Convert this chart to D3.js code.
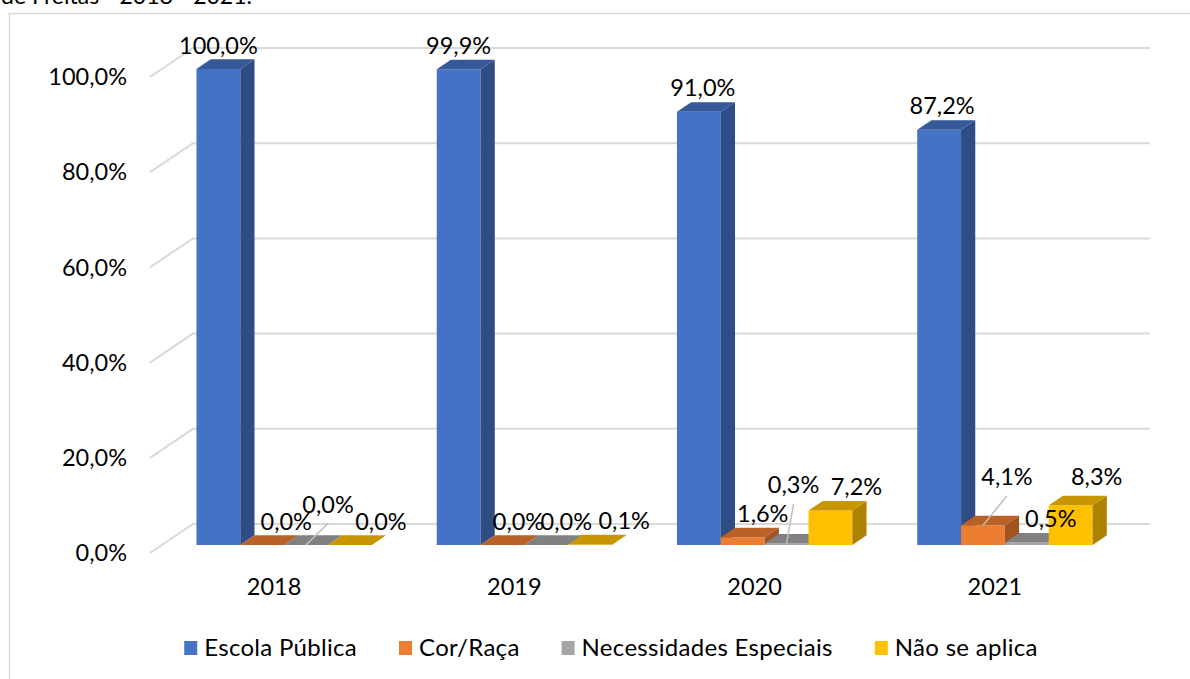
<!DOCTYPE html>
<html>
<head>
<meta charset="utf-8">
<script src="https://cdn.jsdelivr.net/npm/d3@7"></script>
<style>
  html, body { margin: 0; padding: 0; background: #fff; }
  svg { display: block; font-family: Lato, 'Open Sans', sans-serif; }
</style>
</head>
<body>
<svg id="chart" width="1190" height="679"></svg>
<script>
// ── Data ──
const years = ['2018', '2019', '2020', '2021']
const seriesNames = ['Escola Pública', 'Cor/Raça', 'Necessidades Especiais', 'Não se aplica']
const escolaPublica = [100.0, 99.9, 91.0, 87.2]
const corRaca = [0.0, 0.0, 1.6, 4.1]
const necessidades = [0.0, 0.0, 0.3, 0.5]
const naoSeAplica = [0.0, 0.1, 7.2, 8.3]
const yTicks = [0, 20, 40, 60, 80, 100]
const colors = ['#4472C4', '#ED7D31', '#A5A5A5', '#FFC000']

// Excel moved some small labels off their bars; [dx, dy] from default spot
const labelNudge = {
  '0|1': [24, 0], '0|2': [22, -17], '0|3': [31, 0],
  '1|1': [16, 0], '1|2': [20, 0], '1|3': [34, 0],
  '2|0': [4, 0], '2|1': [20, 0], '2|2': [7, -35], '2|3': [26, 0],
  '3|0': [3, 0], '3|1': [24, -25], '3|2': [24, 0], '3|3': [26, -5]
}
const leaders = ['0|2', '2|2', '3|1']

const values = [escolaPublica, corRaca, necessidades, naoSeAplica]
const fmt = v => v.toFixed(1).replace('.', ',') + '%'

const svg = d3.select('#chart')
const grid = '#D9D9D9'

// oblique 3D: depth d in [0,1] shifts up-right
const DX = 43, DY = 29
const D1 = 0.28, D2 = 0.61
const floorLeft = 150, backRight = 1150

const y = d3.scaleLinear().domain([0, 100]).range([553, 77])
const x0 = d3.scaleBand().domain(years).range([152, 1113])
  .paddingInner(0.27).paddingOuter(0.135)
const x1 = d3.scaleBand().domain(d3.range(seriesNames.length)).range([0, x0.bandwidth()])

const pt = (x, v, d) => [x + DX * d, y(v) - DY * d]
const poly = pts => pts.map(p => p.join(',')).join(' ')

// chart frame + cut-off caption above it
svg.append('rect')
  .attr('x', 9.5).attr('y', 13.5).attr('width', 1200).attr('height', 700)
  .attr('fill', 'none').attr('stroke', grid).attr('stroke-width', 1.5)

svg.append('text')
  .attr('x', 1).attr('y', 4)
  .attr('font-size', 23).attr('fill', '#000')
  .text('de Freitas - 2018 - 2021.')

// ── Walls: side wall diagonal + back wall horizontal ──
const gridG = svg.append('g').attr('stroke', grid).attr('stroke-width', 2).attr('fill', 'none')
yTicks.forEach(v => {
  const a = pt(floorLeft, v, 0), b = pt(floorLeft, v, 1)
  gridG.append('polyline')
    .attr('points', poly([a, b, [backRight, b[1]]]))
})

svg.append('g')
  .selectAll('text')
  .data(yTicks)
  .join('text')
  .attr('x', 127)
  .attr('y', d => y(d))
  .attr('dy', '0.35em')
  .attr('text-anchor', 'end')
  .attr('font-size', 23.5)
  .text(d => fmt(d))

// ── Bars ──
const bars = []
years.forEach((yr, i) => {
  values.forEach((arr, s) => {
    bars.push({ i, s, v: arr[i], xl: x0(yr) + x1(s), w: x1.bandwidth() })
  })
})

const barG = svg.append('g')
bars.forEach(b => {
  const c = d3.color(colors[b.s])
  const g = barG.append('g')
  const xr = b.xl + b.w
  g.append('polygon')
    .attr('points', poly([pt(b.xl, 0, D1), pt(xr, 0, D1), pt(xr, b.v, D1), pt(b.xl, b.v, D1)]))
    .attr('fill', c.formatHex())
  g.append('polygon')
    .attr('points', poly([pt(xr, 0, D1), pt(xr, 0, D2), pt(xr, b.v, D2), pt(xr, b.v, D1)]))
    .attr('fill', c.darker(1.1).formatHex())
  g.append('polygon')
    .attr('points', poly([pt(b.xl, b.v, D1), pt(xr, b.v, D1), pt(xr, b.v, D2), pt(b.xl, b.v, D2)]))
    .attr('fill', c.darker(0.7).formatHex())
})

// ── Data labels ──
const labelG = svg.append('g')
bars.forEach(b => {
  const key = b.i + '|' + b.s
  const nudge = labelNudge[key] || [0, 0]
  const lx = b.xl + b.w / 2 + DX * D1 + nudge[0]
  const ly = y(b.v) - DY * D2 - 14 + nudge[1]
  if (leaders.includes(key)) {
    const start = pt(b.xl + b.w / 2, b.v, D1)
    labelG.append('line')
      .attr('x1', start[0]).attr('y1', start[1])
      .attr('x2', lx).attr('y2', ly + 19)
      .attr('stroke', '#BFBFBF').attr('stroke-width', 1.5)
  }
  labelG.append('text')
    .attr('x', lx).attr('y', ly)
    .attr('dy', '0.35em')
    .attr('text-anchor', 'middle')
    .attr('font-size', 23.5)
    .text(fmt(b.v))
})

// ── Category axis ──
svg.append('g')
  .selectAll('text')
  .data(years)
  .join('text')
  .attr('x', d => x0(d) + x0.bandwidth() / 2 + 2)
  .attr('y', 587)
  .attr('dy', '0.35em')
  .attr('text-anchor', 'middle')
  .attr('font-size', 23.5)
  .text(d => d)

// ── Legend ──
const legend = svg.append('g')
let cursor = 0
seriesNames.forEach((name, s) => {
  const g = legend.append('g')
  g.append('rect').attr('x', 0).attr('y', -7).attr('width', 13).attr('height', 14).attr('fill', colors[s])
  const t = g.append('text').attr('x', 20).attr('dy', '0.35em')
    .attr('font-size', 24).attr('letter-spacing', 0.3).text(name)
  const w = 20 + t.node().getComputedTextLength()
  g.attr('transform', `translate(${cursor},648)`)
  cursor += w + 42
})
const total = cursor - 42
legend.attr('transform', `translate(${611 - total / 2},0)`)
</script>
</body>
</html>
